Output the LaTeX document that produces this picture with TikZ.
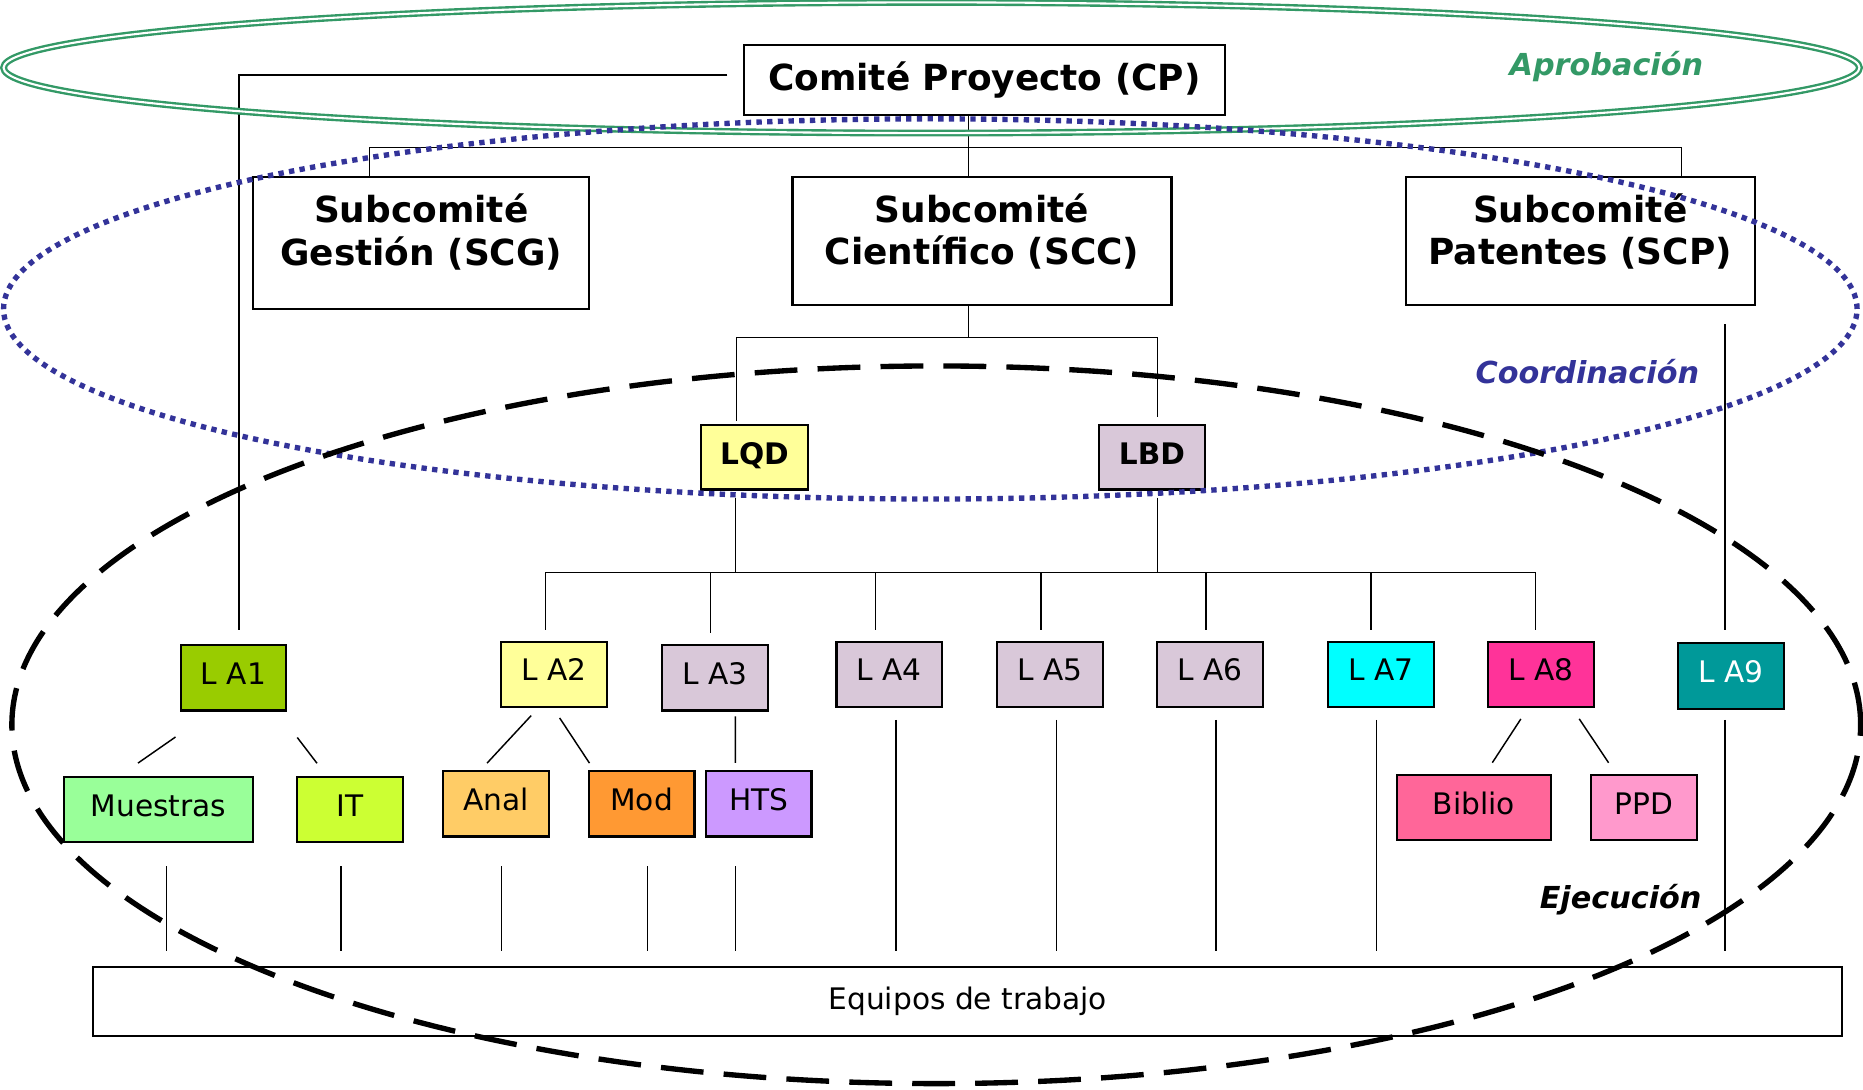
\documentclass[tikz,border=0pt]{standalone}
\usepackage{fontspec}
\setmainfont{DejaVu Sans}
\usepackage{tikz}
\usetikzlibrary{positioning, calc}
\definecolor{aprobColor}{RGB}{51,153,102}
\definecolor{coordColor}{RGB}{51,51,153}
\definecolor{lineaMalva}{RGB}{217,200,217}
\definecolor{la1Green}{RGB}{153,204,0}
\definecolor{lqdYellow}{RGB}{255,255,153}
\definecolor{la7Cyan}{RGB}{0,255,255}
\definecolor{la8Pink}{RGB}{255,51,153}
\definecolor{la9Teal}{RGB}{0,153,153}
\definecolor{muestrasGreen}{RGB}{153,255,153}
\definecolor{itLime}{RGB}{204,255,51}
\definecolor{analOrange}{RGB}{255,204,102}
\definecolor{modOrange}{RGB}{255,153,51}
\definecolor{htsViolet}{RGB}{204,153,255}
\definecolor{biblioPink}{RGB}{255,102,153}
\definecolor{ppdPink}{RGB}{255,153,204}
\tikzset{
    orgbox/.style={
        draw,
        line width=1pt,
        inner sep=0pt,
        minimum width=17.8mm,
        minimum height=11mm,
        text height=10.4pt,
        text depth=4pt,
        font=\fontsize{14.2}{17}\selectfont
    },
    subbox/.style={
        draw,
        line width=1pt,
        inner sep=0pt,
        minimum height=21.6mm
    },
    subtext/.style={
        align=center,
        font=\bfseries\fontsize{17.2}{20.4}\selectfont
    },
    link/.style={
        line width=0.7pt
    },
    zone/.style={
        font=\bfseries\itshape\fontsize{14.5}{17}\selectfont
    }
}

\begin{document}
\begin{tikzpicture}[x=0.2mm, y=-0.2mm]
    \useasboundingbox (0,0) rectangle (1568,917);

    % comites
    \node[draw, line width=1pt, inner sep=0pt, minimum width=81mm, minimum height=11.8mm,
          font=\bfseries\fontsize{17.2}{20.4}\selectfont] (CP) at (828.5,67.5) {Comité Proyecto (CP)};
    \node[subbox, minimum width=56.6mm, minimum height=22.2mm,
          label={[name=SCGtext, subtext, yshift=1.8mm]center:Subcomité\\Gestión (SCG)}] (SCG) at (354.5,204.5) {};
    \node[subbox, minimum width=63.8mm,
          label={[name=SCCtext, subtext, yshift=1.6mm]center:Subcomité\\Científico (SCC)}] (SCC) at (826.5,203) {};
    \node[subbox, minimum width=58.8mm,
          label={[name=SCPtext, subtext, yshift=1.6mm]center:Subcomité\\Patentes (SCP)}] (SCP) at (1330,203) {};

    \node[orgbox, fill=lqdYellow, minimum width=18mm, minimum height=10.8mm,
          font=\bfseries\fontsize{14.2}{17}\selectfont] (LQD) at (635,385) {LQD};
    \node[orgbox, fill=lineaMalva, minimum height=10.8mm,
          font=\bfseries\fontsize{14.2}{17}\selectfont] (LBD) at (969.5,385) {LBD};

    % lineas de actuacion
    \node[orgbox, fill=la1Green] (LA1) at (196.5,570.5) {L A1};
    \node[orgbox, fill=lqdYellow] (LA2) at (466.5,567.5) {L A2};
    \node[orgbox, fill=lineaMalva] (LA3) at (601.5,570.5) {L A3};
    \node[orgbox, fill=lineaMalva] (LA4) at (748.5,567.5) {L A4};
    \node[orgbox, fill=lineaMalva, right=8.85mm of LA4] (LA5) {L A5};
    \node[orgbox, fill=lineaMalva, right=8.85mm of LA5] (LA6) {L A6};
    \node[orgbox, fill=la7Cyan, right=10.65mm of LA6] (LA7) {L A7};
    \node[orgbox, fill=la8Pink, right=8.75mm of LA7] (LA8) {L A8};
    \node[orgbox, fill=la9Teal, text=white] (LA9) at (1457,569) {L A9};

    \node[orgbox, fill=muestrasGreen, minimum width=31.8mm] (Mue) at (133.5,681.5) {Muestras};
    \node[orgbox, fill=itLime] (IT) at (294.5,681.5) {IT};
    \node[orgbox, fill=analOrange] (Anal) at (417.5,676.5) {Anal};
    \node[orgbox, fill=modOrange] (Mod) at (540,676.5) {Mod};
    \node[orgbox, fill=htsViolet] (HTS) at (638.5,676.5) {HTS};
    \node[orgbox, fill=biblioPink, minimum width=26mm] (Biblio) at (1240.5,679.5) {Biblio};
    \node[orgbox, fill=ppdPink] (PPD) at (1383.5,679.5) {PPD};

    \node[draw, line width=1pt, fill=white, inner sep=0pt, minimum width=294.4mm, minimum height=11.6mm,
          font=\fontsize{14.2}{17}\selectfont] (Equipos) at (814.5,843) {Equipos de trabajo};

    % CP -> subcomites
    \coordinate (hubCP) at (815,124);
    \draw[link] (CP.south -| hubCP) -- (SCC.north -| hubCP);
    \draw[link] ([xshift=-8.7mm]SCG.north) |- (hubCP) -| ([xshift=17mm]SCP.north);
    \draw[link, shorten <=2.6mm, shorten >=2.4mm] ([yshift=0.9mm]CP.west) -| ([xshift=0.9mm]LA1.north);

    % SCC -> LQD, LBD
    \coordinate (hubSCC) at (815,284);
    \draw[link] (SCC.south -| hubSCC) -- (hubSCC);
    \draw[link, shorten <=0.6mm, shorten >=1.2mm] ([xshift=-3mm]LQD.north) |- (hubSCC) -| ([xshift=0.9mm]LBD.north);
    \draw[link, shorten <=3mm, shorten >=2.1mm] ([xshift=24.4mm]SCP.south) -- ([xshift=24.4mm]SCP.south |- LA9.north);

    % barra hacia las lineas
    \coordinate (bar) at (0,482);
    \draw[link, shorten <=1.2mm] ([xshift=-3.2mm]LQD.south) -- ([xshift=-3.2mm]LQD.south |- bar);
    \draw[link, shorten <=1.2mm] ([xshift=0.9mm]LBD.south) -- ([xshift=0.9mm]LBD.south |- bar);
    \draw[link] ([xshift=-1.5mm]LA2.north |- bar) -- ([xshift=-0.9mm]LA8.north |- bar);
    \foreach \n/\dx in {LA2/-1.5, LA3/-0.7, LA4/-2.3, LA5/-1.5, LA6/-0.7, LA7/-1.7, LA8/-0.9}
        \draw[link, shorten >=1.8mm] ([xshift=\dx mm]\n.north |- bar) -- ([xshift=\dx mm]\n.north);

    % sublineas
    \draw[link, shorten <=7.5mm, shorten >=3.8mm] ([xshift=-3.6mm]LA1.south) -- ([xshift=-6.6mm]Mue.north);
    \draw[link, shorten <=5.5mm, shorten >=2.7mm] ([xshift=7.4mm]LA1.south) -- ([xshift=-3.9mm]IT.north);
    \draw[link, shorten <=1.75mm, shorten >=1.6mm] ([xshift=-2.7mm]LA2.south) -- ([xshift=-2.6mm]Anal.north);
    \draw[link, shorten <=2mm, shorten >=1.4mm] ([xshift=-0.2mm]LA2.south) -- ([xshift=-8mm]Mod.north);
    \draw[link, shorten <=0.8mm, shorten >=1.2mm] ([xshift=3.5mm]LA3.south) -- ([xshift=-3.9mm]HTS.north);
    \draw[link, shorten <=2.2mm, shorten >=2.2mm] ([xshift=-2.2mm]LA8.south) -- ([xshift=1.9mm]Biblio.north);
    \draw[link, shorten <=2.2mm, shorten >=2.2mm] ([xshift=5.2mm]LA8.south) -- ([xshift=-4.7mm]PPD.north);

    % hacia equipos de trabajo
    \foreach \n/\dx/\g in {Mue/1.3/3.8, IT/-1.5/3.8, Anal/0.9/4.8, Mod/1/4.8, HTS/-3.9/4.8,
                           LA4/1.1/2, LA5/1.1/2, LA6/1/2, LA7/-0.8/2, LA9/-1/1.7}
        \draw[link, shorten <=\g mm, shorten >=2.6mm] ([xshift=\dx mm]\n.south) -- ([xshift=\dx mm]\n.south |- Equipos.north);

    % niveles
    \draw[aprobColor, line width=0.4mm, double=white, double distance=0.35mm] (784,57) ellipse [x radius=156.2mm, y radius=11mm];
    \draw[coordColor, line width=0.9mm, dash pattern=on 0.9mm off 0.9mm] (783,260) ellipse [x radius=156mm, y radius=32mm];
    \draw[black, line width=0.9mm, dash pattern=on 7.2mm off 3.4mm] (788,610) ellipse [x radius=155.6mm, y radius=60.4mm];

    \node[zone, text=aprobColor] (aprob) at (1352,56) {Aprobación};
    \node[zone, text=coordColor] (coord) at (1336,313) {Coordinación};
    \node[zone] (ejec) at (1364,757) {Ejecución};
\end{tikzpicture}
\end{document}
